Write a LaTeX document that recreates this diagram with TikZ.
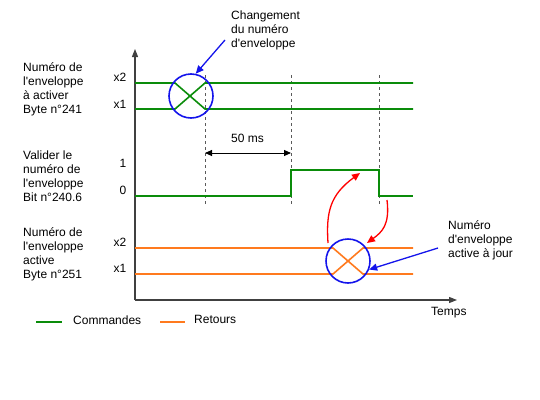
\documentclass[tikz,border=0pt]{standalone}
\usepackage{fontspec}
\setmainfont{Liberation Sans}
\usetikzlibrary{arrows.meta}
\definecolor{cgreen}{RGB}{10,140,10}
\definecolor{corange}{RGB}{255,122,30}
\definecolor{cblue}{RGB}{20,20,235}
\definecolor{cdash}{RGB}{90,90,90}
\newcommand{\ap}{\textquotesingle}
\begin{document}
\begin{tikzpicture}[x=1pt,y=-1pt,font=\fontsize{12}{14}\selectfont,
  lbl/.style={align=left,inner sep=0pt,anchor=west},
  lvl/.style={inner sep=0pt,anchor=center},
  gsig/.style={line width=1.6pt,cgreen},
  osig/.style={line width=1.6pt,corange},
  ring/.style={draw=cblue,line width=1.6pt,circle,minimum size=44pt,inner sep=0pt},
  barrow/.style={draw=cblue,line width=1.3pt,-{Triangle[length=8pt,width=7pt]}},
  rarrow/.style={draw=red,line width=1.3pt,-{Triangle[length=8pt,width=7pt]}},
  axis/.style={draw=black!75,line width=1.1pt,-{Triangle[length=8pt,width=6pt]}},
  guide/.style={draw=cdash,line width=0.9pt,dash pattern=on 3pt off 3pt},
  dim/.style={draw=black,line width=0.9pt,{Triangle[length=7pt,width=6pt]}-{Triangle[length=7pt,width=6pt]}}]
\useasboundingbox (0,0) rectangle (540,399);

% axes
\coordinate (origin) at (135,300);
\coordinate (ytop) at (135,49);
\coordinate (xend) at (457,300);
\draw[axis] (origin) -- (ytop);
\draw[axis] (origin) -- (xend);
\node[lbl] (temps) at (431,313) {Temps};

% dashed guides
\foreach \n/\x in {ga/205,gb/291,gc/379}{
  \coordinate (\n t) at (\x,75);
  \coordinate (\n b) at (\x,205);
  \draw[guide] (\n t) -- (\n b);
}

% top signal (green)
\draw[gsig] (135,83) -- (175,83) -- (205,109) -- (413,109);
\draw[gsig] (135,109) -- (175,109) -- (205,83) -- (413,83);
\node[ring] (ring1) at (191,96) {};

% bit signal (green)
\draw[gsig] (135,196) -- (291,196) -- (291,170) -- (379,170) -- (379,196) -- (413,196);

% bottom signal (orange)
\draw[osig] (135,248) -- (333,248) -- (363,274) -- (413,274);
\draw[osig] (135,274) -- (333,274) -- (363,248) -- (413,248);
\node[ring] (ring2) at (348,261) {};

% 50 ms
\coordinate (da) at (205,153);
\coordinate (db) at (291,153);
\draw[dim] (da) -- (db);
\node[lbl] (ms) at (231,138) {50 ms};

% red arrows
\coordinate (r1s) at (328,243);
\coordinate (r1e) at (360,173);
\draw[rarrow] (r1s) .. controls (326,212) and (330,195) .. (r1e);
\coordinate (r2s) at (387,200);
\coordinate (r2e) at (367,243);
\draw[rarrow] (r2s) .. controls (390,225) and (382,232) .. (r2e);

% annotations
\node[lbl] (chg) at (231,30) {Changement\\du numéro\\d\ap enveloppe};
\coordinate (b1s) at (225,40);
\draw[barrow] (b1s) -- (ring1.78);
\node[lbl] (act) at (448,240) {Numéro\\d\ap enveloppe\\active à jour};
\coordinate (b2s) at (438,248);
\draw[barrow] (b2s) -- (ring2.-22);

% left labels
\node[lbl] (l1) at (23,89) {Numéro de\\l\ap enveloppe\\à activer\\Byte n°241};
\node[lbl] (l2) at (23,176) {Valider le\\numéro de\\l\ap enveloppe\\Bit n°240.6};
\node[lbl] (l3) at (23,254) {Numéro de\\l\ap enveloppe\\active\\Byte n°251};

% level labels
\node[lvl] (a2) at (120,77) {x2};
\node[lvl] (a1) at (120,104) {x1};
\node[lvl] (b1) at (123,163) {1};
\node[lvl] (b0) at (123,190) {0};
\node[lvl] (c2) at (120,242) {x2};
\node[lvl] (c1) at (120,268) {x1};

% legend
\coordinate (lg1) at (36,322);
\coordinate (lg2) at (62,322);
\draw[gsig,line width=1.3pt] (lg1) -- (lg2);
\node[lbl] (cmd) at (73,320) {Commandes};
\coordinate (lo1) at (160,322);
\coordinate (lo2) at (185,322);
\draw[osig,line width=1.3pt] (lo1) -- (lo2);
\node[lbl] (ret) at (194,319) {Retours};
\end{tikzpicture}
\end{document}
